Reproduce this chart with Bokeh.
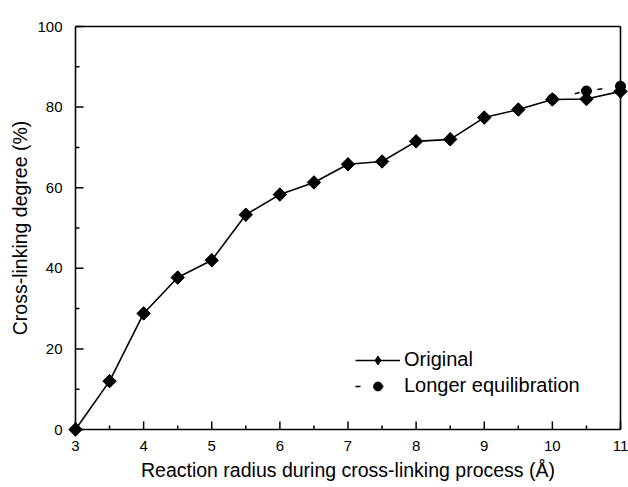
import numpy as np
from bokeh.plotting import figure
from bokeh.models import Range1d, Legend, LegendItem, FixedTicker
from bokeh.embed import file_html
from bokeh.resources import INLINE

radius = [3, 3.5, 4, 4.5, 5, 5.5, 6, 6.5, 7, 7.5, 8, 8.5, 9, 9.5, 10, 10.5, 11]
original = [0, 12.0, 28.8, 37.7, 42.0, 53.3, 58.3, 61.3, 65.8, 66.5, 71.5, 72.0, 77.4, 79.4, 81.9, 82.0, 83.9]
radius_long = [10, 10.5, 11]
longer = [82.0, 84.0, 85.2]

x_ticks = [3, 4, 5, 6, 7, 8, 9, 10, 11]
x_minor = [3.5, 4.5, 5.5, 6.5, 7.5, 8.5, 9.5, 10.5]
y_ticks = [0, 20, 40, 60, 80, 100]
y_minor = [10, 30, 50, 70, 90]

FONT = "Liberation Sans"

# pixel geometry of the axes box
W, H = 628, 487
BOX_L, BOX_R, BOX_T, BOX_B = 75, 620, 26, 429
PAD = 8  # frame extends 8px beyond the axes box so edge markers are not clipped

X0, X1 = x_ticks[0], x_ticks[-1]
Y0, Y1 = y_ticks[0], y_ticks[-1]
px_x = (BOX_R - BOX_L) / (X1 - X0)
px_y = (BOX_B - BOX_T) / (Y1 - Y0)
dx, dy = PAD / px_x, PAD / px_y

p = figure(width=W, height=H, output_backend="svg", toolbar_location=None,
           x_range=Range1d(X0 - dx, X1 + dx), y_range=Range1d(Y0 - dy, Y1 + dy),
           min_border_left=BOX_L - PAD, min_border_right=W - BOX_R - PAD,
           min_border_top=BOX_T - PAD, min_border_bottom=H - BOX_B - PAD)
p.background_fill_color = "white"
p.border_fill_color = "white"
p.outline_line_color = None
p.xgrid.visible = False
p.ygrid.visible = False

for ax in (p.xaxis[0], p.yaxis[0]):
    ax.axis_line_color = None
    ax.major_tick_in = 0
    ax.major_tick_out = 0
    ax.minor_tick_in = 0
    ax.minor_tick_out = 0
    ax.major_label_text_font = FONT
    ax.major_label_text_font_size = "15px"
    ax.major_label_text_color = "black"
    ax.axis_label_text_font = FONT
    ax.axis_label_text_font_size = "19.5px"
    ax.axis_label_text_font_style = "normal"
    ax.axis_label_text_color = "black"

p.xaxis.ticker = FixedTicker(ticks=x_ticks)
p.yaxis.ticker = FixedTicker(ticks=y_ticks)
p.xaxis.major_label_standoff = 11 - PAD
p.yaxis.major_label_standoff = 13 - PAD
p.xaxis.axis_label = "Reaction radius during cross-linking process (Å)"
p.yaxis.axis_label = "Cross-linking degree (%)"
p.xaxis.axis_label_standoff = 5
p.yaxis.axis_label_standoff = 3

# axes box (all four sides)
p.segment(x0=[X0, X0, X0, X1], y0=[Y0, Y1, Y0, Y0], x1=[X1, X1, X0, X1], y1=[Y0, Y1, Y1, Y1],
          line_color="black", line_width=1.6)

# inward ticks
maj, mnr = 8, 4
p.segment(x0=x_ticks, y0=[Y0] * len(x_ticks), x1=x_ticks, y1=[Y0 + maj / px_y] * len(x_ticks),
          line_color="black", line_width=1.5)
p.segment(x0=x_minor, y0=[Y0] * len(x_minor), x1=x_minor, y1=[Y0 + mnr / px_y] * len(x_minor),
          line_color="black", line_width=1.5)
p.segment(x0=[X0] * len(y_ticks), y0=y_ticks, x1=[X0 + maj / px_x] * len(y_ticks), y1=y_ticks,
          line_color="black", line_width=1.5)
p.segment(x0=[X0] * len(y_minor), y0=y_minor, x1=[X0 + mnr / px_x] * len(y_minor), y1=y_minor,
          line_color="black", line_width=1.5)

l1 = p.line(radius, original, line_color="black", line_width=1.6)
# diamond renderer (used as legend swatch), covered by the rotated squares
d1 = p.scatter(radius, original, marker="diamond", size=13, fill_color="black", line_color="black")
m1 = p.scatter(radius, original, marker="square", angle=np.pi / 4, size=9.5,
               fill_color="black", line_color="black")
l2 = p.line(radius_long, longer, line_color="black", line_width=1.6, line_dash="5 18")
m2 = p.scatter(radius_long, longer, marker="circle", size=10,
               fill_color="black", line_color="black")

legend = Legend(items=[LegendItem(label="Original", renderers=[l1, d1]),
                       LegendItem(label="Longer equilibration", renderers=[l2, m2])],
                location=(280 + PAD, 32 + PAD))
legend.border_line_color = None
legend.background_fill_alpha = 0
legend.padding = 0
legend.margin = 0
legend.spacing = 3
legend.glyph_width = 45
legend.glyph_height = 22
legend.label_standoff = 4
legend.label_text_font = FONT
legend.label_text_font_size = "20px"
legend.label_text_color = "black"
p.add_layout(legend, "center")

open("out.html", "w").write(file_html(p, INLINE))
